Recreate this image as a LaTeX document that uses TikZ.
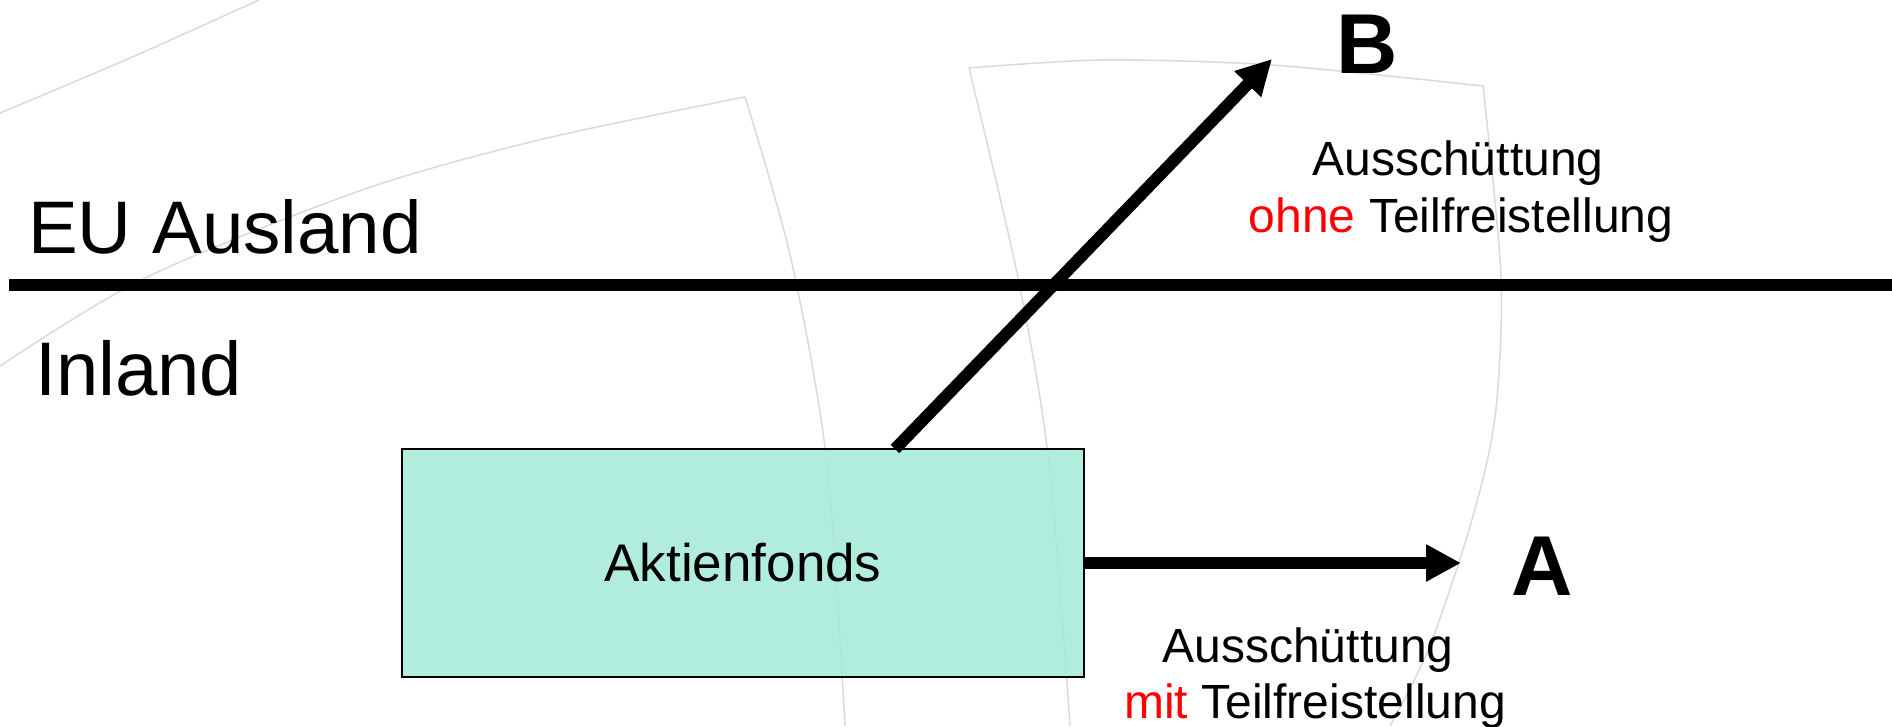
\documentclass[tikz,border=0pt]{standalone}
\usepackage{fontspec}
\setmainfont{Liberation Sans}
\usetikzlibrary{arrows.meta}
\definecolor{mint}{RGB}{164,235,216}
\definecolor{bggray}{RGB}{218,218,218}
\begin{document}
\begin{tikzpicture}[x=1pt,y=-1pt,
  region/.style={inner sep=0pt, anchor=base west, font=\fontsize{76}{90}\selectfont},
  letter/.style={inner sep=0pt, anchor=base, font=\bfseries\fontsize{85}{100}\selectfont},
  lbl/.style={inner sep=0pt, anchor=base, font=\fontsize{48}{57}\selectfont},
  fatarrow/.style={line width=12pt, -{Triangle[length=35pt,width=35pt]}},
  bgline/.style={draw=bggray, line width=1.5pt}]
\useasboundingbox (0,0) rectangle (1892,726);
\fill[white] (0,0) rectangle (1892,726);
% faint background pattern
\draw[bgline] plot[smooth] coordinates {(0,113) (130,58) (259,0)};
\draw[bgline] plot[smooth] coordinates {(0,366) (145,278) (362,190) (543,139) (745,97)};
\draw[bgline] plot[smooth] coordinates {(745,97) (791,259) (827,463) (845,726)};
\draw[bgline] plot[smooth] coordinates {(969,68) (1103,60) (1272,65) (1483,86)};
\draw[bgline] plot[smooth] coordinates {(969,68) (1018,278) (1049,463) (1070,726)};
\draw[bgline] plot[smooth] coordinates {(1483,86) (1501,278) (1495,417) (1471,523) (1429,648) (1390,726)};
% border line
\coordinate (lineL) at (9,285);
\coordinate (lineR) at (1892,285);
\draw[line width=12.5pt] (lineL) -- (lineR);
% region labels
\node[region, font=\fontsize{74.5}{90}\selectfont] (eu) at (28,253) {EU Ausland};
\node[region] (inland) at (35,395) {Inland};
% fund box
\node[draw=black, line width=1.5pt, fill=mint, fill opacity=0.85, text opacity=1,
      minimum width=682pt, minimum height=228pt, inner sep=0pt,
      font=\fontsize{53}{60}\selectfont] (box) at (743,563) {Aktienfonds};
% arrows
\coordinate (startB) at (895,449);
\coordinate (tipB) at (1272,59);
\coordinate (tipA) at (1461,563);
\draw[fatarrow] (startB) -- (tipB);
\draw[fatarrow] (box.east) -- (tipA);
% letters
\node[letter] (B) at (1367,73) {B};
\node[letter] (A) at (1542,595) {A};
% labels
\node[lbl] (labB1) at (1458,175) {Ausschüttung};
\node[lbl] (labB2) at (1461,232) {\textcolor{red}{ohne} Teilfreistellung};
\node[lbl] (labA1) at (1308,662) {Ausschüttung};
\node[lbl] (labA2) at (1315,718) {\textcolor{red}{mit} Teilfreistellung};
\end{tikzpicture}
\end{document}
